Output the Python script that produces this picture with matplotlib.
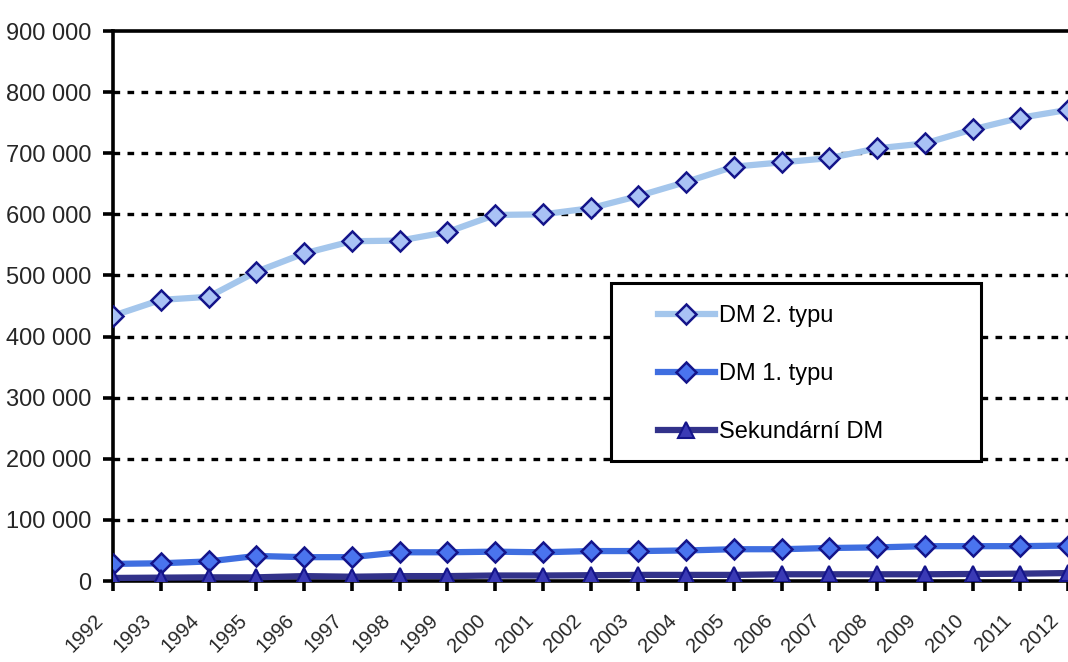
import matplotlib
matplotlib.use("Agg")
from matplotlib import pyplot as plt
from matplotlib.patches import Rectangle
from matplotlib.transforms import ScaledTranslation
import numpy as np

years = list(range(1992, 2013))
dm2 = [434000, 460000, 465000, 506000, 536000, 556000, 557000, 571000, 599000, 600000,
       610000, 630000, 653000, 678000, 685000, 692000, 708000, 716000, 739000, 758000, 771000]
dm1 = [28000, 29000, 32000, 41000, 39000, 39000, 47000, 47000, 48000, 47000,
       49000, 49000, 50000, 52000, 52000, 54000, 55000, 57000, 57000, 57000, 58000]
sek = [5000, 5500, 6000, 6000, 8000, 7000, 8000, 8000, 9000, 9000,
       9500, 10000, 10000, 10000, 11000, 11000, 11000, 11000, 11500, 12000, 13000]
labels = ["DM 2. typu", "DM 1. typu", "Sekundární DM"]
yticks = list(range(0, 900001, 100000))
ytick_labels = ["0" if v == 0 else "{} 000".format(v // 1000) for v in yticks]

plt.rcParams['font.family'] = ['Liberation Sans', 'DejaVu Sans']

fig = plt.figure(figsize=(10.68, 6.62), dpi=100)
ax = fig.add_axes([113/1068, 81/662, 979/1068, 550/662])

edge = "#14148a"
ax.plot(years, dm2, color="#a4c6ec", lw=4.5, marker="D", ms=10, mfc="#a9c2f5",
        mec=edge, mew=1.8, label=labels[0], zorder=4)
ax.plot(years, dm1, color="#3f6ee0", lw=4.5, marker="D", ms=10, mfc="#4a74ee",
        mec=edge, mew=1.8, label=labels[1], zorder=4)
ax.plot(years, sek, color="#32328a", lw=4.5, marker="^", ms=11, mfc="#3a3ab5",
        mec=edge, mew=1.5, label=labels[2], zorder=4)

ax.set_xlim(1992, 2012.5)
ax.set_ylim(0, 900000)
ax.set_yticks(yticks)
ax.set_yticklabels(ytick_labels)
ax.set_xticks(years)

for v in yticks[1:-1]:
    ax.axhline(v, color="black", lw=2.4, linestyle=(0, (2.0, 2.2)), zorder=1)

for s in ["left", "top", "bottom"]:
    ax.spines[s].set_linewidth(2.6)
    ax.spines[s].set_color("black")
ax.spines["right"].set_visible(False)
ax.spines["bottom"].set_zorder(3)

ax.tick_params(axis="both", direction="out", length=7.5, width=2.6, colors="black",
               labelcolor="#262626", labelsize=17)
ax.tick_params(axis="y", pad=8)
ax.tick_params(axis="x", labelbottom=False)

# year labels, rotated, shifted left/down of each tick
off = ax.get_xaxis_transform() + ScaledTranslation(-0.19, -0.30, fig.dpi_scale_trans)
for y in years:
    ax.text(y, 0, str(y), transform=off, rotation=45, ha="right", va="top",
            rotation_mode="anchor", fontsize=14.5, color="#262626", clip_on=False)

# legend box
ax.add_patch(Rectangle((0.5087, 0.2182), 0.3779, 0.3236, transform=ax.transAxes,
                       facecolor="white", edgecolor="black", lw=2.2, zorder=5))
leg = ax.legend(loc="center left", bbox_to_anchor=(0.5567, 0.3765), fontsize=17,
                frameon=False, handlelength=2.4, handletextpad=0.2,
                labelspacing=1.53, borderpad=0, borderaxespad=0)
leg.set_zorder(6)

fig.savefig("out.png", dpi=100)
